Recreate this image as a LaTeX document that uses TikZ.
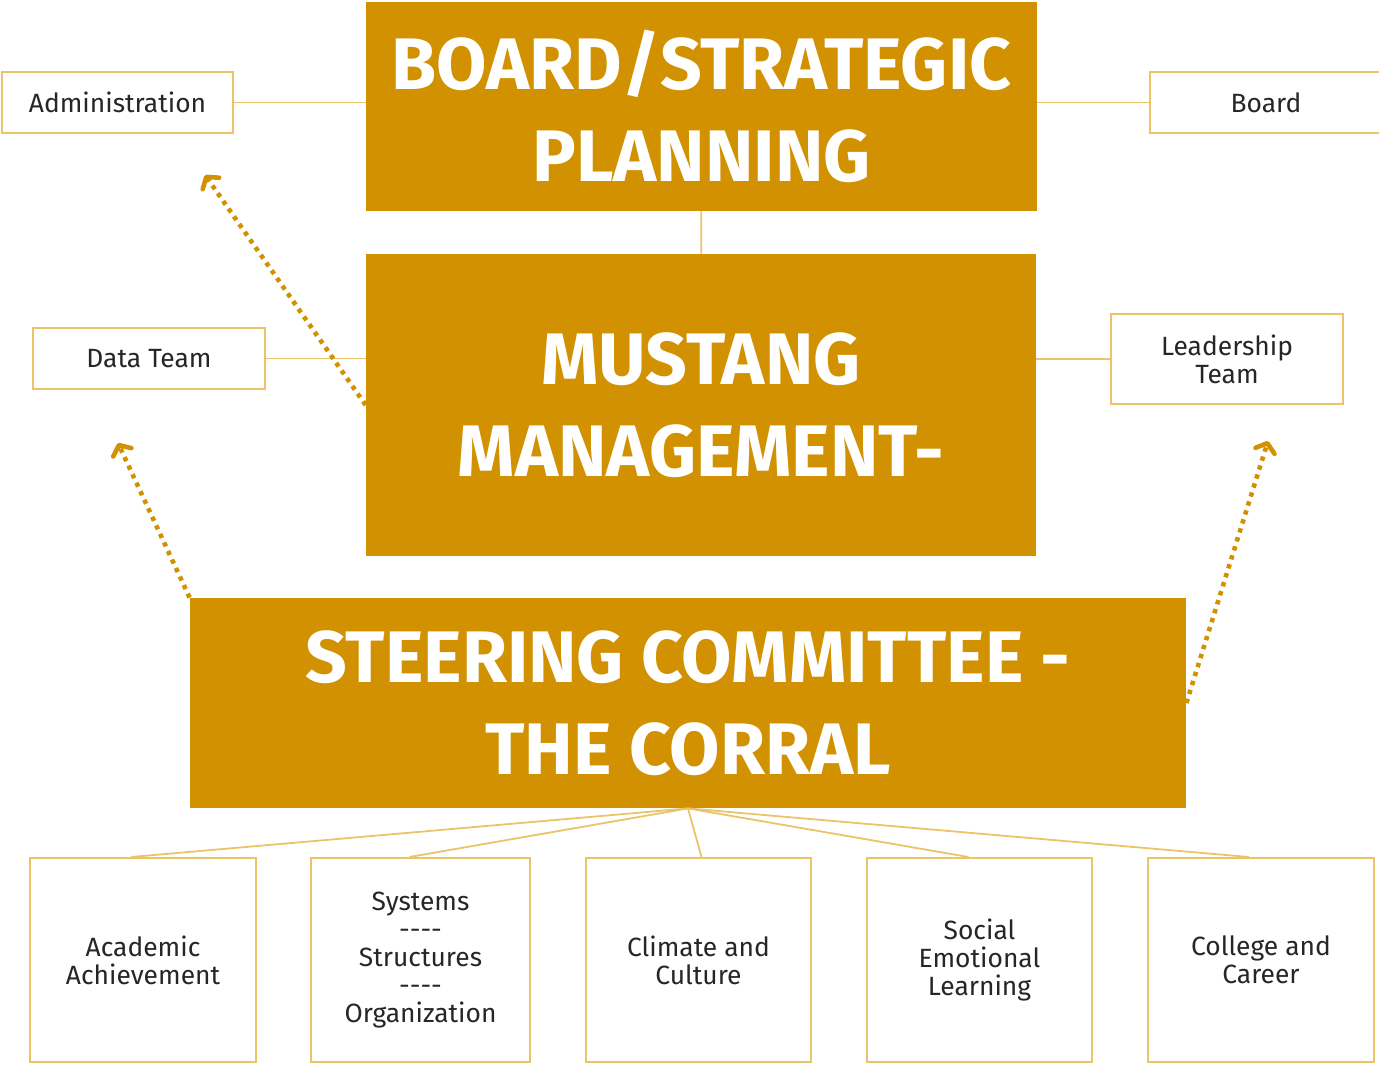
\documentclass[tikz,border=0pt]{standalone}
\usepackage{fontspec}
\setmainfont{Fira Sans}
\usepackage{xcolor}
\usepackage{tikz}
\usetikzlibrary{arrows.meta}

\definecolor{mustgold}{RGB}{209,145,0}
\definecolor{lightgold}{RGB}{234,196,104}

\begin{document}
\begin{tikzpicture}[x=0.5pt,y=-0.5pt,
    bigbox/.style={fill=mustgold, draw=none, text=white, align=center,
        font=\fontsize{36.5}{46}\selectfont\bfseries, inner sep=0pt},
    smallbox/.style={draw=lightgold, line width=1pt, fill=white, align=center,
        font=\fontsize{13.2}{14}\selectfont, inner sep=0pt, text=black!85},
    link/.style={draw=lightgold, line width=0.9pt},
    uparrow/.style={draw=mustgold, line width=2.3pt, dash pattern=on 2.2pt off 2.5pt,
        -{Straight Barb[length=4pt,width=10pt,line cap=round,line join=round]}}]
            \useasboundingbox (0,0) rectangle (1379,1064);

            \node[bigbox, minimum width=335.5pt, minimum height=104.5pt] (strat) at (701.5, 106.5) {BOARD/STRATEGIC\\PLANNING};
            \node[bigbox, minimum width=335pt, minimum height=151pt] (mustang) at (701, 405) {MUSTANG\\MANAGEMENT-};
            \node[bigbox, minimum width=498pt, minimum height=105pt] (steer) at (688, 703) {STEERING COMMITTEE -\\THE CORRAL};

            \node[smallbox, minimum width=115.5pt, minimum height=30.5pt] (admin) at (117.5, 102.5) {Administration};
            \node[smallbox, minimum width=116pt, minimum height=30.5pt] (board) at (1266, 102.5) {Board};
            \node[smallbox, minimum width=116pt, minimum height=30.5pt] (data) at (149, 358.5) {Data Team};
            \node[smallbox, minimum width=116pt, minimum height=45pt] (lead) at (1227, 359) {Leadership\\Team};

            \node[smallbox, minimum width=113pt, minimum height=102pt] (acad) at (143, 960) {Academic\\Achievement};
            \node[smallbox, minimum width=109.5pt, minimum height=102pt] (sys) at (420.5, 960) {Systems\\-{}-{}-{}-\\Structures\\-{}-{}-{}-\\Organization};
            \node[smallbox, minimum width=112.5pt, minimum height=102pt] (clim) at (698.5, 960) {Climate and\\Culture};
            \node[smallbox, minimum width=112.5pt, minimum height=102pt] (sel) at (979.5, 960) {Social\\Emotional\\Learning};
            \node[smallbox, minimum width=113pt, minimum height=102pt] (coll) at (1261, 960) {College and\\Career};

            \coordinate (adminup) at (205, 175);
            \coordinate (dataup) at (118, 443);
            \coordinate (leadup) at (1268, 441);

            % side links
            \draw[link] (admin.east) -- (admin.east -| strat.west);
            \draw[link] (board.west) -- (board.west -| strat.east);
            \draw[link] (strat) -- (mustang);
            \draw[link] (data.east) -- (data.east -| mustang.west);
            \draw[link] (lead.west) -- (lead.west -| mustang.east);

            % committee links
            \draw[link] (steer.south) -- ([xshift=-6pt]acad.north);
            \draw[link] (steer.south) -- ([xshift=-5.5pt]sys.north);
            \draw[link] (steer.south) -- ([xshift=1.5pt]clim.north);
            \draw[link] (steer.south) -- ([xshift=-5.5pt]sel.north);
            \draw[link] (steer.south) -- ([xshift=-6pt]coll.north);

            \draw[uparrow] (mustang.west) -- (adminup);
            \draw[uparrow] (steer.north west) -- (dataup);
            \draw[uparrow] (steer.east) -- (leadup);
        \end{tikzpicture}
\end{document}
